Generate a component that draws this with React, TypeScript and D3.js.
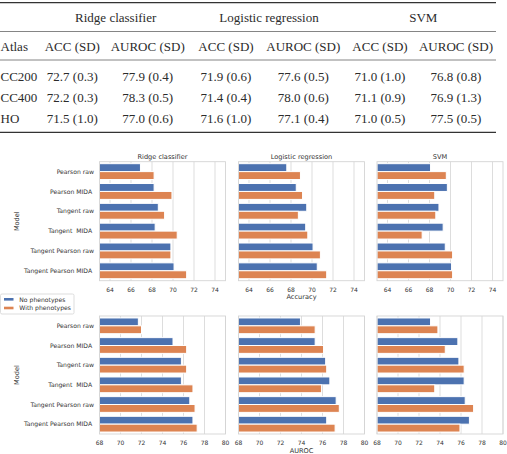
import * as d3 from 'd3';

// results table
const groups = ['Ridge classifier', 'Logistic regression', 'SVM'];
const metricHeads = ['ACC (SD)', 'AUROC (SD)', 'ACC (SD)', 'AUROC (SD)', 'ACC (SD)', 'AUROC (SD)'];
const atlases = ['CC200', 'CC400', 'HO'];
const cc200Row = ['72.7 (0.3)', '77.9 (0.4)', '71.9 (0.6)', '77.6 (0.5)', '71.0 (1.0)', '76.8 (0.8)'];
const cc400Row = ['72.2 (0.3)', '78.3 (0.5)', '71.4 (0.4)', '78.0 (0.6)', '71.1 (0.9)', '76.9 (1.3)'];
const hoRow = ['71.5 (1.0)', '77.0 (0.6)', '71.6 (1.0)', '77.1 (0.4)', '71.0 (0.5)', '77.5 (0.5)'];
const tableRows = [cc200Row, cc400Row, hoRow];

// bar charts
const models = ['Pearson raw', 'Pearson MIDA ', 'Tangent raw', 'Tangent  MIDA ', 'Tangent Pearson raw', 'Tangent Pearson MIDA '];
const hues = ['No phenotypes', 'With phenotypes'];
const colors = ['#4c72b0', '#dd8452'];

const ridgeAccNo = [66.9, 68.2, 68.6, 68.3, 69.8, 70.1];
const ridgeAccWith = [68.2, 69.9, 69.2, 70.4, 69.8, 71.3];
const logregAccNo = [67.6, 68.5, 69.5, 69.4, 70.1, 70.5];
const logregAccWith = [68.9, 69.1, 68.7, 69.6, 70.8, 71.4];
const svmAccNo = [68.1, 69.7, 68.9, 69.3, 69.5, 70.1];
const svmAccWith = [69.6, 68.5, 68.6, 67.3, 70.2, 70.2];

const ridgeAucNo = [71.7, 75.0, 75.8, 75.8, 76.6, 76.9];
const ridgeAucWith = [72.0, 76.3, 76.3, 76.9, 77.1, 77.3];
const logregAucNo = [73.9, 75.3, 76.3, 76.7, 77.3, 76.4];
const logregAucWith = [75.3, 76.1, 76.4, 75.9, 77.6, 77.2];
const svmAucNo = [73.1, 75.7, 75.8, 76.3, 76.4, 76.8];
const svmAucWith = [73.8, 74.5, 76.3, 73.5, 77.2, 75.9];

const accTicks = [64, 66, 68, 70, 72, 74];
const aucTicks = [68, 70, 72, 74, 76, 78, 80];

const rows = [
  { label: 'Accuracy', domain: [63, 75], ticks: accTicks, top: 161.7, height: 119,
    series: [[ridgeAccNo, ridgeAccWith], [logregAccNo, logregAccWith], [svmAccNo, svmAccWith]] },
  { label: 'AUROC', domain: [68, 80], ticks: aucTicks, top: 316, height: 118,
    series: [[ridgeAucNo, ridgeAucWith], [logregAucNo, logregAucWith], [svmAucNo, svmAucWith]] },
];

const panelLeft = [99.5, 238.5, 377];
const panelW = 126;
const sans = 'DejaVu Sans, sans-serif';
const serif = 'Liberation Serif, serif';
const textCol = '#333';
const gridCol = '#d4d4d4';

function Table() {
  const colX = [72.3, 147.7, 226, 303.3, 380, 456];
  const groupX = [115.7, 269, 423.3];
  const rowY = [80.5, 101.5, 122.8];
  return (
    <g fill="#2b2b2b" fontFamily={serif} fontSize={13}>
      <line x1={0} x2={496} y1={2.6} y2={2.6} stroke="#333" strokeWidth={1.3} />
      {groups.map((g, i) => (
        <text key={g} x={groupX[i]} y={22} textAnchor="middle">{g}</text>
      ))}
      <line x1={0} x2={496} y1={31.5} y2={31.5} stroke="#666" strokeWidth={0.8} />
      <text x={0.5} y={51}>Atlas</text>
      {metricHeads.map((h, i) => (
        <text key={i} x={colX[i]} y={51} textAnchor="middle">{h}</text>
      ))}
      <line x1={0} x2={496} y1={60} y2={60} stroke="#666" strokeWidth={0.8} />
      {atlases.map((a, r) => (
        <g key={a}>
          <text x={0.5} y={rowY[r]}>{a}</text>
          {tableRows[r].map((v, i) => (
            <text key={i} x={colX[i]} y={rowY[r]} textAnchor="middle">{v}</text>
          ))}
        </g>
      ))}
      <line x1={0} x2={496} y1={132.3} y2={132.3} stroke="#333" strokeWidth={1.3} />
    </g>
  );
}

function Panel({ row, col }: { row: any; col: number }) {
  const x0 = panelLeft[col];
  const x = d3.scaleLinear().domain(row.domain).range([x0, x0 + panelW]);
  const y = d3.scaleBand().domain(models).range([row.top, row.top + row.height])
    .paddingInner(0.2).paddingOuter(0.1);
  const yHue = d3.scaleBand().domain(hues).range([0, y.bandwidth()]);
  const [noVals, withVals] = row.series[col];
  const bottom = row.top + row.height;
  return (
    <g>
      {row.ticks.map((t: number) => (
        <line key={t} x1={x(t)} x2={x(t)} y1={row.top} y2={bottom} stroke={gridCol} strokeWidth={0.8} />
      ))}
      {[noVals, withVals].map((vals: number[], h: number) =>
        models.map((m, i) => (
          <rect key={h + m} x={x(row.domain[0])} y={(y(m) as number) + (yHue(hues[h]) as number)}
            width={x(vals[i]) - x(row.domain[0])} height={yHue.bandwidth()}
            fill={colors[h]} stroke="#fff" strokeWidth={1} />
        ))
      )}
      <rect x={x0} y={row.top} width={panelW} height={row.height} fill="none" stroke={gridCol} strokeWidth={0.9} />
      {row.ticks.map((t: number) => (
        <text key={t} x={x(t)} y={bottom + 11} textAnchor="middle" fontSize={6} fill={textCol}>{t}</text>
      ))}
      {col === 0 && models.map((m) => (
        <text key={m} x={x0 - 5.5} y={(y(m) as number) + y.bandwidth() / 2 + 2.2} textAnchor="end"
          fontSize={6.1} fill={textCol} style={{ whiteSpace: 'pre' }}>{m}</text>
      ))}
    </g>
  );
}

function Charts() {
  return (
    <g fontFamily={sans}>
      {rows.map((row, r) => (
        <g key={row.label}>
          {groups.map((g, c) => <Panel key={g} row={row} col={c} />)}
          <text x={panelLeft[1] + panelW / 2} y={row.top + row.height + 18.5} textAnchor="middle"
            fontSize={6.6} fill={textCol}>{row.label}</text>
          <text transform={`translate(19,${row.top + row.height / 2}) rotate(-90)`} textAnchor="middle"
            fontSize={6.6} fill={textCol}>Model</text>
          {r === 0 && groups.map((g, c) => (
            <text key={g} x={panelLeft[c] + panelW / 2} y={159} textAnchor="middle" fontSize={6.6} fill={textCol}>{g}</text>
          ))}
        </g>
      ))}
      <g>
        <rect x={0.5} y={294} width={73.5} height={20} rx={1.5} fill="#fff" stroke={gridCol} strokeWidth={0.8} />
        {hues.map((h, i) => (
          <g key={h}>
            <rect x={4} y={298 + i * 8.7} width={9.5} height={2.6} fill={colors[i]} />
            <text x={19.3} y={301.5 + i * 8.7} fontSize={6.1} fill={textCol}>{h}</text>
          </g>
        ))}
      </g>
    </g>
  );
}

export default function App() {
  return (
    <svg width={507} height={454} style={{ position: 'absolute', left: 0, top: 0, background: '#fff' }}>
      <rect width={507} height={454} fill="#fff" />
      <Table />
      <Charts />
    </svg>
  );
}
